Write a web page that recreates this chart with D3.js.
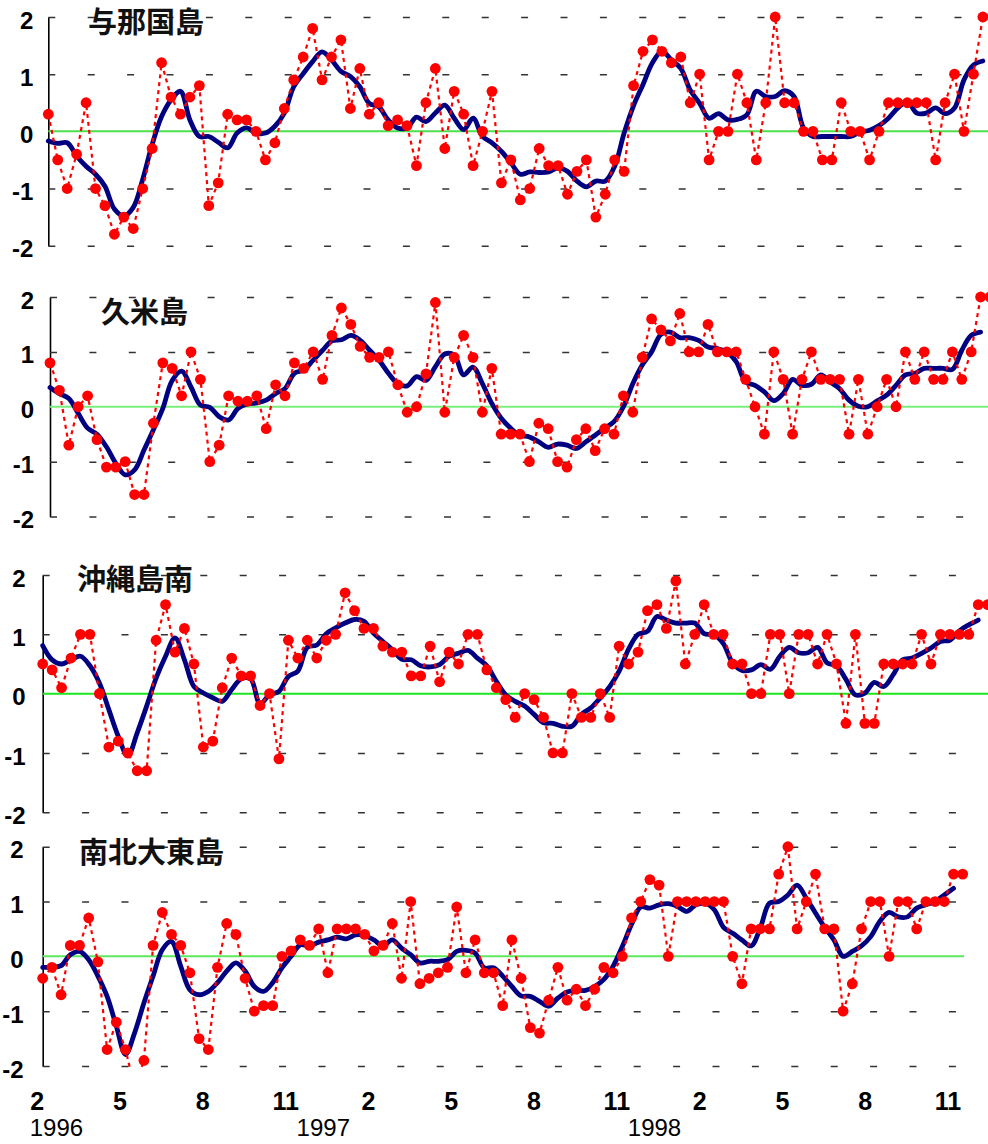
<!DOCTYPE html>
<html>
<head>
<meta charset="utf-8">
<script src="https://cdn.jsdelivr.net/npm/d3@7"></script>
<style>
  html, body { margin: 0; padding: 0; background: #fff; }
  svg { display: block; }
  .num { font-family: "Liberation Sans", Arial, sans-serif; font-weight: bold; fill: #000; }
  .year { font-family: "Liberation Sans", Arial, sans-serif; fill: #000; }
  .title { font-family: "Noto Sans CJK JP", sans-serif; font-weight: bold; font-size: 29px; fill: #111; }
</style>
</head>
<body>
<svg id="chart" width="988" height="1144"></svg>
<script>
// ten-day (旬) values, Feb 1996 - Nov 1998, three per month
const stations = ["与那国島", "久米島", "沖縄島南", "南北大東島"];

const yonaguniObs = [0.3,-0.5,-1.0,-0.4,0.5,-1.0,-1.3,-1.8,-1.5,-1.7,
  -1.0,-0.3,1.2,0.6,0.3,0.6,0.8,-1.3,-0.9,0.3,
  0.2,0.2,0.0,-0.5,-0.2,0.4,0.9,1.3,1.8,0.9,
  1.3,1.6,0.4,1.1,0.3,0.5,0.1,0.2,0.1,-0.6,
  0.5,1.1,-0.3,0.7,0.3,-0.6,0.0,0.7,-0.9,-0.5,
  -1.2,-1.0,-0.3,-0.6,-0.6,-1.1,-0.7,-0.5,-1.5,-1.1,
  -0.5,-0.7,0.8,1.4,1.6,1.4,1.2,1.3,0.5,1.0,
  -0.5,0.0,0.0,1.0,0.5,-0.5,0.5,2.0,0.5,0.5,
  0.0,0.0,-0.5,-0.5,0.5,0.0,0.0,-0.5,0.0,0.5,
  0.5,0.5,0.5,0.5,-0.5,0.5,1.0,0.0,1.0,2.0,2.0];
const yonaguniSmooth = [-0.17,-0.21,-0.2,-0.43,-0.61,-0.75,-0.96,-1.36,-1.48,-1.33,
  -0.84,-0.23,0.26,0.55,0.7,0.2,-0.09,-0.09,-0.19,-0.29,
  -0.03,0.06,-0.03,-0.03,0.09,0.32,0.78,1.01,1.22,1.39,
  1.25,1.05,0.96,0.78,0.49,0.43,0.2,0.06,0.06,0.25,
  0.17,0.32,0.46,0.23,0.03,0.23,-0.09,-0.2,-0.35,-0.55,
  -0.75,-0.71,-0.72,-0.71,-0.64,-0.7,-0.87,-0.97,-0.87,-0.87,
  -0.61,-0.03,0.45,0.82,1.2,1.4,1.25,1.1,0.72,0.49,
  0.23,0.31,0.2,0.21,0.29,0.7,0.61,0.61,0.71,0.61,
  0.06,-0.09,-0.09,-0.09,-0.09,-0.09,-0.01,0.02,0.1,0.23,
  0.41,0.52,0.32,0.32,0.41,0.31,0.41,0.9,1.16,1.23];

const kumeObs = [0.8,0.3,-0.7,0.0,0.2,-0.6,-1.1,-1.1,-1.0,-1.6,
  -1.6,-0.3,0.8,0.7,0.2,1.0,0.5,-1.0,-0.7,0.2,
  0.1,0.1,0.2,-0.4,0.4,0.2,0.8,0.7,1.0,0.5,
  1.3,1.8,1.5,1.1,0.9,0.9,1.0,0.4,-0.1,0.0,
  0.6,1.9,-0.1,0.9,1.3,0.9,-0.1,0.7,-0.5,-0.5,
  -0.5,-1.0,-0.3,-0.4,-1.0,-1.1,-0.6,-0.4,-0.8,-0.4,
  -0.5,0.2,-0.1,0.9,1.6,1.4,1.2,1.7,1.0,1.0,
  1.5,1.0,1.0,1.0,0.5,0.0,-0.5,1.0,0.5,-0.5,
  0.5,1.0,0.5,0.5,0.5,-0.5,0.5,-0.5,0.0,0.5,
  0.0,1.0,0.5,1.0,0.5,0.5,1.0,0.5,1.0,2.0,2.0];
const kumeSmooth = [0.35,0.24,0.15,-0.12,-0.39,-0.5,-0.73,-1.03,-1.24,-1.15,
  -0.79,-0.42,-0.03,0.48,0.65,0.36,0.03,-0.01,-0.18,-0.24,
  -0.03,0.05,0.07,0.12,0.24,0.33,0.61,0.67,0.85,1.03,
  1.2,1.22,1.3,1.21,1.03,0.85,0.61,0.42,0.38,0.55,
  0.48,0.73,0.96,0.94,0.58,0.72,0.42,0.06,-0.21,-0.39,
  -0.52,-0.55,-0.64,-0.74,-0.68,-0.7,-0.76,-0.64,-0.52,-0.39,
  -0.27,0.0,0.42,0.76,1.0,1.32,1.36,1.26,1.26,1.21,
  1.09,1.06,1.0,0.82,0.45,0.39,0.27,0.11,0.24,0.5,
  0.39,0.41,0.58,0.45,0.33,0.12,0.01,0.0,0.11,0.21,
  0.39,0.58,0.61,0.7,0.7,0.7,0.68,1.03,1.3,1.36];

const okinawaObs = [0.5,0.4,0.1,0.6,1.0,1.0,0.0,-0.9,-0.8,-1.0,
  -1.3,-1.3,0.9,1.5,0.7,1.1,0.5,-0.9,-0.8,0.1,
  0.6,0.3,0.3,-0.2,0.0,-1.1,0.9,0.6,0.9,0.6,
  0.9,1.0,1.7,1.4,1.1,1.1,0.8,0.7,0.7,0.3,
  0.3,0.8,0.2,0.7,0.5,1.0,1.0,0.4,0.1,-0.1,
  -0.4,0.0,-0.1,-0.4,-1.0,-1.0,0.0,-0.4,-0.4,0.0,
  -0.4,0.8,0.5,0.7,1.4,1.5,1.1,1.9,0.5,1.0,
  1.5,1.0,1.0,0.5,0.5,0.0,0.0,1.0,1.0,0.0,
  1.0,1.0,0.5,1.0,0.5,-0.5,1.0,-0.5,-0.5,0.5,
  0.5,0.5,0.5,1.0,0.5,1.0,1.0,1.0,1.0,1.5,1.5];
const okinawaSmooth = [0.81,0.57,0.5,0.57,0.63,0.47,0.18,-0.27,-0.72,-1.05,
  -0.66,-0.21,0.26,0.63,0.94,0.57,0.12,0.01,-0.07,-0.13,
  0.07,0.25,0.25,-0.17,-0.02,0.04,0.29,0.38,0.78,0.82,
  1.01,1.11,1.19,1.25,1.22,1.02,0.88,0.74,0.58,0.57,
  0.47,0.45,0.49,0.63,0.68,0.73,0.6,0.47,0.21,-0.02,
  -0.13,-0.21,-0.35,-0.49,-0.5,-0.55,-0.55,-0.35,-0.24,-0.07,
  0.12,0.38,0.75,1.0,1.05,1.3,1.24,1.19,1.19,1.19,
  1.01,0.99,0.85,0.52,0.39,0.4,0.49,0.41,0.63,0.78,
  0.69,0.69,0.78,0.52,0.47,0.24,-0.02,0.01,0.19,0.12,
  0.32,0.57,0.6,0.68,0.77,0.88,0.9,1.06,1.16,1.24];

const daitoObs = [-0.4,-0.2,-0.7,0.2,0.2,0.7,-0.1,-1.7,-1.2,-1.7,
  -2.4,-1.9,0.2,0.8,0.4,0.2,-0.3,-1.5,-1.7,-0.2,
  0.6,0.4,-0.4,-1.0,-0.9,-0.9,0.0,0.1,0.3,0.2,
  0.5,-0.3,0.5,0.5,0.5,0.4,0.1,0.2,0.6,-0.4,
  1.0,-0.5,-0.4,-0.3,-0.2,0.9,-0.3,0.3,-0.3,-0.3,
  -0.9,0.3,-0.4,-1.3,-1.4,-0.8,-0.2,-0.8,-0.6,-0.9,
  -0.6,-0.2,-0.3,0.0,0.7,1.0,1.4,1.3,0.0,1.0,
  1.0,1.0,1.0,1.0,1.0,0.0,-0.5,0.5,0.5,0.5,
  1.5,2.0,0.5,1.0,1.5,0.5,0.5,-1.0,-0.5,0.5,
  1.0,1.0,0.0,1.0,1.0,0.5,1.0,1.0,1.0,1.5,1.5];
const daitoSmooth = [-0.2,-0.2,-0.17,0.03,0.09,-0.06,-0.36,-0.73,-1.27,-1.79,
  -1.39,-0.85,-0.36,0.12,0.27,-0.18,-0.61,-0.7,-0.64,-0.48,
  -0.27,-0.12,-0.27,-0.55,-0.64,-0.48,-0.21,0.0,0.21,0.19,
  0.26,0.3,0.35,0.32,0.39,0.38,0.3,0.19,0.3,0.15,
  0.03,-0.12,-0.09,-0.09,-0.06,0.09,0.11,0.06,-0.21,-0.21,
  -0.36,-0.55,-0.72,-0.73,-0.82,-0.91,-0.76,-0.65,-0.62,-0.62,
  -0.55,-0.42,-0.18,0.18,0.58,0.9,0.88,0.94,0.96,0.91,
  0.82,0.94,0.97,0.85,0.53,0.42,0.3,0.19,0.52,0.97,
  1.0,1.12,1.3,1.06,0.79,0.53,0.3,0.0,0.09,0.19,
  0.36,0.64,0.8,0.72,0.72,0.88,0.94,1.0,1.12,1.24];

const monthLabels = ["2","5","8","11","2","5","8","11","2","5","8","11"];
const yearLabels = ["1996", "1997", "1998"];
const yTicks = [2, 1, 0, -1, -2];

const series = [
  {obs: yonaguniObs, smooth: yonaguniSmooth},
  {obs: kumeObs, smooth: kumeSmooth},
  {obs: okinawaObs, smooth: okinawaSmooth},
  {obs: daitoObs, smooth: daitoSmooth}
];

// each panel was pasted in separately, so every one has its own frame
const layout = [
  {x0: 48.3, dx: 9.44, top: 17, bottom: 245.7, right: 988, tx: 88, ty: 33, pad: 15, zero: "#4ce04c"},
  {x0: 50, dx: 9.4, top: 297, bottom: 516.5, right: 988, tx: 101, ty: 323, pad: 16, zero: "#7aee7a"},
  {x0: 42.7, dx: 9.45, top: 575, bottom: 812.3, right: 988, tx: 77, ty: 590, pad: 17, zero: "#1ee61e"},
  {x0: 42.7, dx: 9.2, top: 846.7, bottom: 1066, right: 964, tx: 79, ty: 863, pad: 19, zero: "#5ee85e"}
];

const svg = d3.select("#chart");

series.forEach((s, i) => {
  const L = layout[i];
  const x = d3.scaleLinear().domain([0, 100]).range([L.x0, L.x0 + 100 * L.dx]);
  const y = d3.scaleLinear().domain([-2, 2]).range([L.bottom, L.top]);
  const g = svg.append("g");

  // --- y axis + dashed grid ---
  const axis = g.append("g")
    .attr("transform", `translate(${L.x0},0)`)
    .call(d3.axisLeft(y).tickValues(yTicks).tickSize(-(L.right - L.x0))
      .tickSizeOuter(0).tickPadding(L.pad).tickFormat(d => String(d)));
  axis.select(".domain").attr("stroke", "#000").attr("stroke-width", 1.6);
  axis.selectAll(".tick line")
    .attr("stroke", "#333").attr("stroke-width", 1.5).attr("stroke-dasharray", "7,32.4")
    .filter(d => d === 0).remove();
  axis.selectAll(".tick text")
    .attr("class", "num").style("font-size", "24px").attr("dy", "0.46em");

  g.append("line")
    .attr("x1", L.x0).attr("x2", L.right)
    .attr("y1", y(0)).attr("y2", y(0))
    .attr("stroke", L.zero).attr("stroke-width", 2);

  const clipId = "clip" + i;
  svg.append("clipPath").attr("id", clipId).append("rect")
    .attr("x", L.x0 - 8).attr("y", L.top - 10)
    .attr("width", 1000).attr("height", L.bottom - L.top + 13);

  const plot = g.append("g").attr("clip-path", `url(#${clipId})`);

  const smoothLine = d3.line().x((d, j) => x(j)).y(d => y(d)).curve(d3.curveCatmullRom.alpha(0.5));
  const obsLine = d3.line().x((d, j) => x(j)).y(d => y(d));

  plot.append("path").datum(s.smooth)
    .attr("fill", "none").attr("stroke", "#000080").attr("stroke-width", 4.8)
    .attr("stroke-linejoin", "round").attr("stroke-linecap", "round").attr("d", smoothLine);

  plot.append("path").datum(s.obs)
    .attr("fill", "none").attr("stroke", "#ff0000").attr("stroke-width", 2.2)
    .attr("stroke-dasharray", "4,4").attr("d", obsLine);

  plot.selectAll("circle").data(s.obs).join("circle")
    .attr("cx", (d, j) => x(j)).attr("cy", d => y(d)).attr("r", 5.4)
    .attr("fill", "#ff0000");

  g.append("text").attr("class", "title")
    .attr("x", L.tx).attr("y", L.ty).text(stations[i]);

  // --- month / year labels under the last panel ---
  if (i === series.length - 1) {
    const monthTicks = monthLabels.map((m, k) => 9 * k - 0.65);
    const xAxis = svg.append("g")
      .attr("transform", `translate(0,${L.bottom})`)
      .call(d3.axisBottom(x).tickValues(monthTicks).tickFormat((d, k) => monthLabels[k])
        .tickSize(0).tickPadding(26));
    xAxis.select(".domain").remove();
    xAxis.selectAll("text").attr("class", "num").style("font-size", "25px");

    svg.selectAll(".year").data(yearLabels).join("text")
      .attr("class", "year")
      .attr("x", (d, k) => k === 0 ? x(0) - 13 : x(36 * k - 5.5))
      .attr("y", 1136)
      .attr("text-anchor", (d, k) => k === 0 ? "start" : "middle")
      .style("font-size", "24px")
      .text(d => d);
  }
});
</script>
</body>
</html>
